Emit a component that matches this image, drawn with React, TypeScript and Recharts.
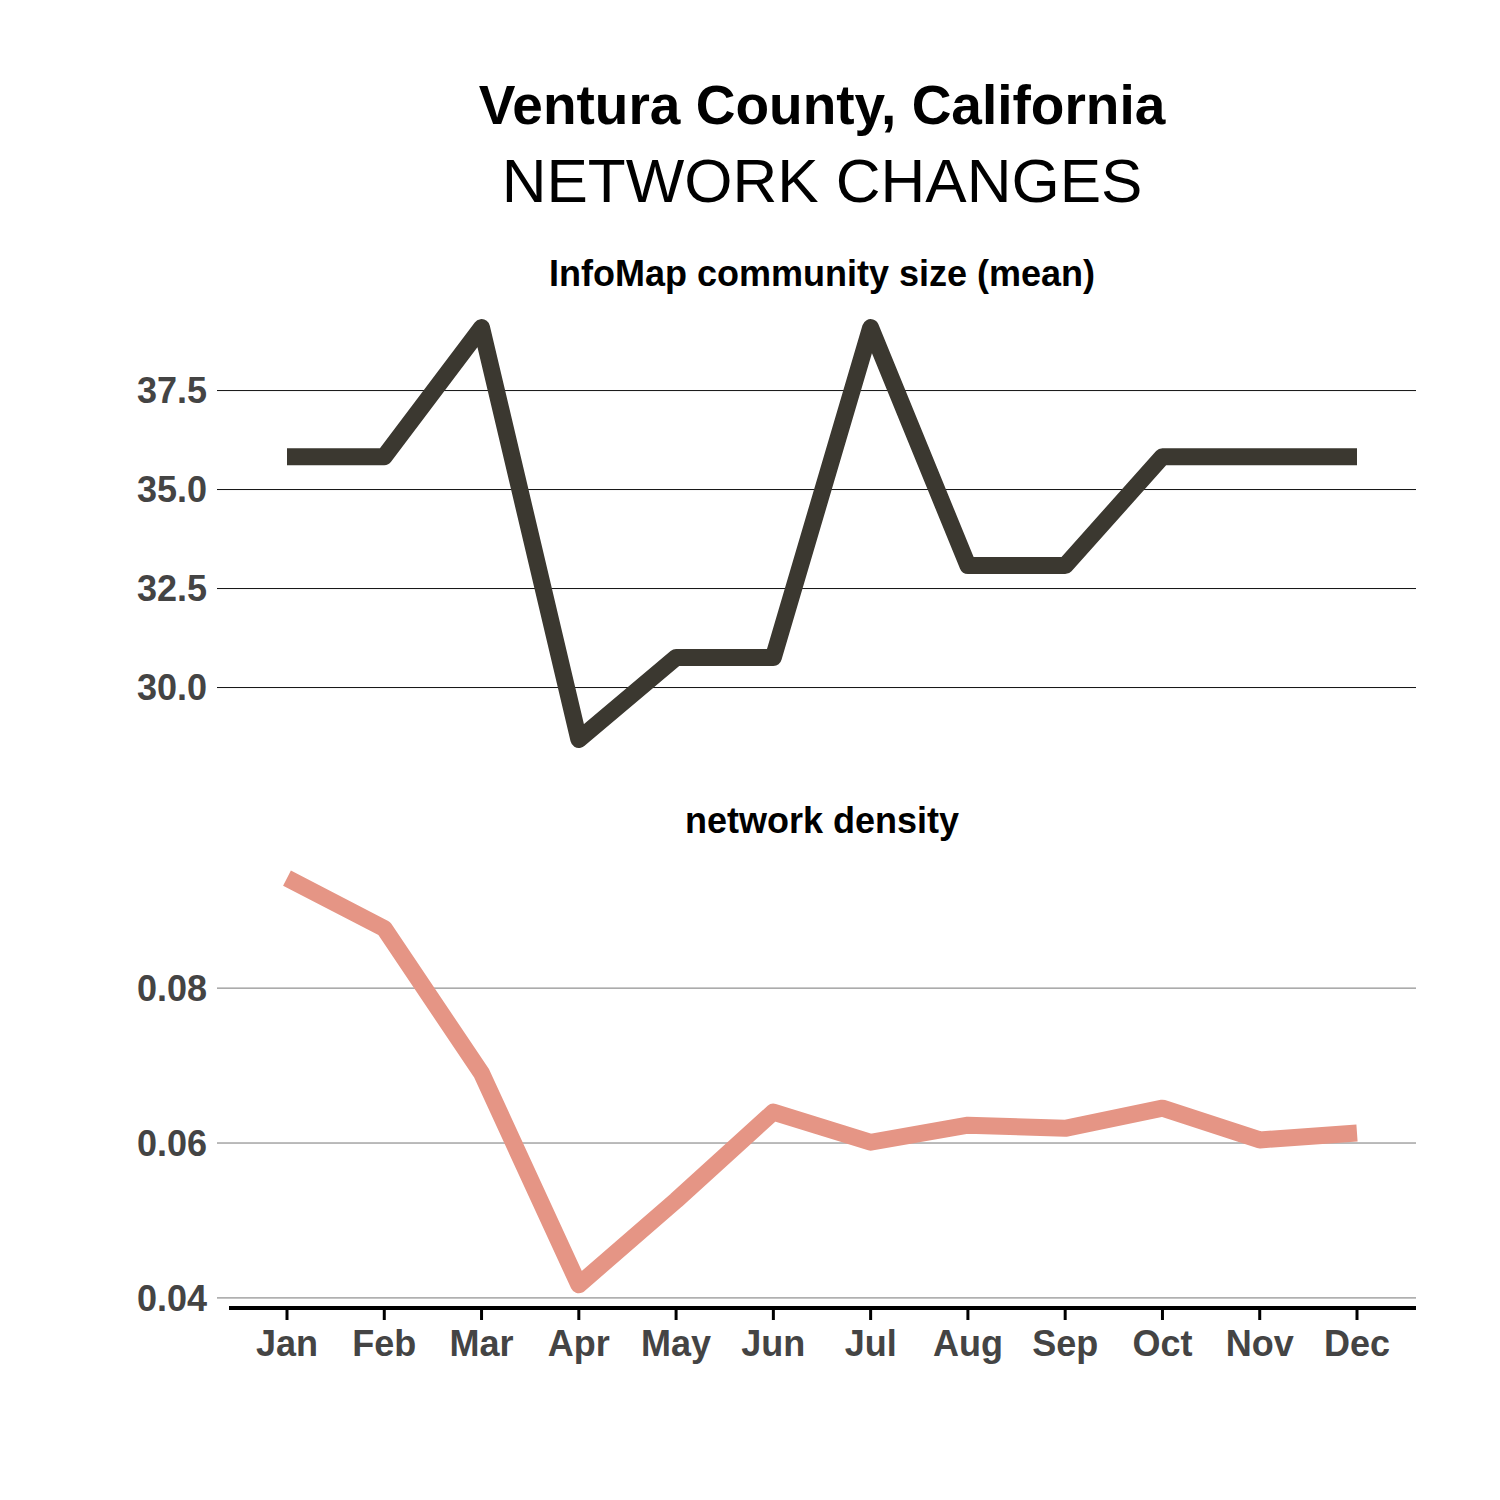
import React from 'react';
import { LineChart, Line, XAxis, YAxis, ReferenceLine } from 'recharts';

const months = ['Jan', 'Feb', 'Mar', 'Apr', 'May', 'Jun', 'Jul', 'Aug', 'Sep', 'Oct', 'Nov', 'Dec'];
const communitySize = [35.83, 35.83, 39.09, 28.69, 30.76, 30.76, 39.09, 33.08, 33.08, 35.83, 35.83, 35.83];
const density = [0.0942, 0.0877, 0.069, 0.0417, 0.0526, 0.064, 0.0601, 0.0623, 0.0619, 0.0645, 0.0604, 0.0613];
const sizeTicks = [30, 32.5, 35, 37.5];
const densityTicks = [0.04, 0.06, 0.08];

const FONT = '"Liberation Sans", Arial, Helvetica, sans-serif';
const TICK_COLOR = '#444444';

const chartData = months.map((m, i) => ({ month: m, size: communitySize[i], density: density[i] }));

export default function App() {
  return (
    <div style={{ position: 'absolute', left: 0, top: 0, width: 1500, height: 1500, background: '#fff', fontFamily: FONT }}>
      {/* titles */}
      <svg width={1500} height={860} style={{ position: 'absolute', left: 0, top: 0 }}>
        <text x={822} y={124} textAnchor="middle" fontSize={55} fontWeight="bold" fontFamily={FONT} fill="#000">
          Ventura County, California
        </text>
        <text x={822} y={202} textAnchor="middle" fontSize={62} fontFamily={FONT} fill="#000">
          NETWORK CHANGES
        </text>
        <text x={822} y={286} textAnchor="middle" fontSize={36} fontWeight="bold" fontFamily={FONT} fill="#000">
          InfoMap community size (mean)
        </text>
        <text x={822} y={833} textAnchor="middle" fontSize={36} fontWeight="bold" fontFamily={FONT} fill="#000">
          network density
        </text>
      </svg>

      {/* top panel */}
      <div style={{ position: 'absolute', left: 0, top: 0 }}>
        <LineChart width={1500} height={800} data={chartData} margin={{ top: 307, right: 84, bottom: 40, left: 0 }}>
          <XAxis dataKey="month" hide padding={{ left: 58, right: 59 }} />
          <YAxis
            type="number"
            domain={[28.17, 39.61]}
            ticks={sizeTicks}
            allowDataOverflow
            width={229}
            axisLine={false}
            tickLine={{ stroke: '#111', strokeWidth: 1 }}
            tickSize={12}
            tickMargin={10}
            tickFormatter={(v: number) => v.toFixed(1)}
            tick={{ fill: TICK_COLOR, fontSize: 36, fontWeight: 'bold', fontFamily: FONT }}
          />
          {sizeTicks.map((t) => (
            <ReferenceLine key={t} y={t} stroke="#111" strokeWidth={1} />
          ))}
          <Line
            type="linear"
            dataKey="size"
            stroke="#3b3830"
            strokeWidth={17}
            strokeLinejoin="round"
            dot={false}
            isAnimationActive={false}
          />
        </LineChart>
      </div>

      {/* bottom panel */}
      <div style={{ position: 'absolute', left: 0, top: 800 }}>
        <LineChart width={1500} height={700} data={chartData} margin={{ top: 58, right: 84, bottom: 132, left: 0 }}>
          <XAxis
            dataKey="month"
            padding={{ left: 58, right: 59 }}
            height={60}
            axisLine={{ stroke: '#000', strokeWidth: 4 }}
            tickLine={{ stroke: '#000', strokeWidth: 3 }}
            tickSize={12}
            tickMargin={10}
            interval={0}
            tick={{ fill: TICK_COLOR, fontSize: 36, fontWeight: 'bold', fontFamily: FONT }}
          />
          <YAxis
            type="number"
            domain={[0.0387, 0.0968]}
            ticks={densityTicks}
            allowDataOverflow
            width={229}
            axisLine={false}
            tickLine={{ stroke: '#777', strokeWidth: 1 }}
            tickSize={12}
            tickMargin={10}
            tickFormatter={(v: number) => v.toFixed(2)}
            tick={{ fill: TICK_COLOR, fontSize: 36, fontWeight: 'bold', fontFamily: FONT }}
          />
          {densityTicks.map((t) => (
            <ReferenceLine key={t} y={t} stroke="#777" strokeWidth={1} />
          ))}
          <Line
            type="linear"
            dataKey="density"
            stroke="#e59585"
            strokeWidth={17}
            strokeLinejoin="round"
            dot={false}
            isAnimationActive={false}
          />
        </LineChart>
      </div>
    </div>
  );
}
